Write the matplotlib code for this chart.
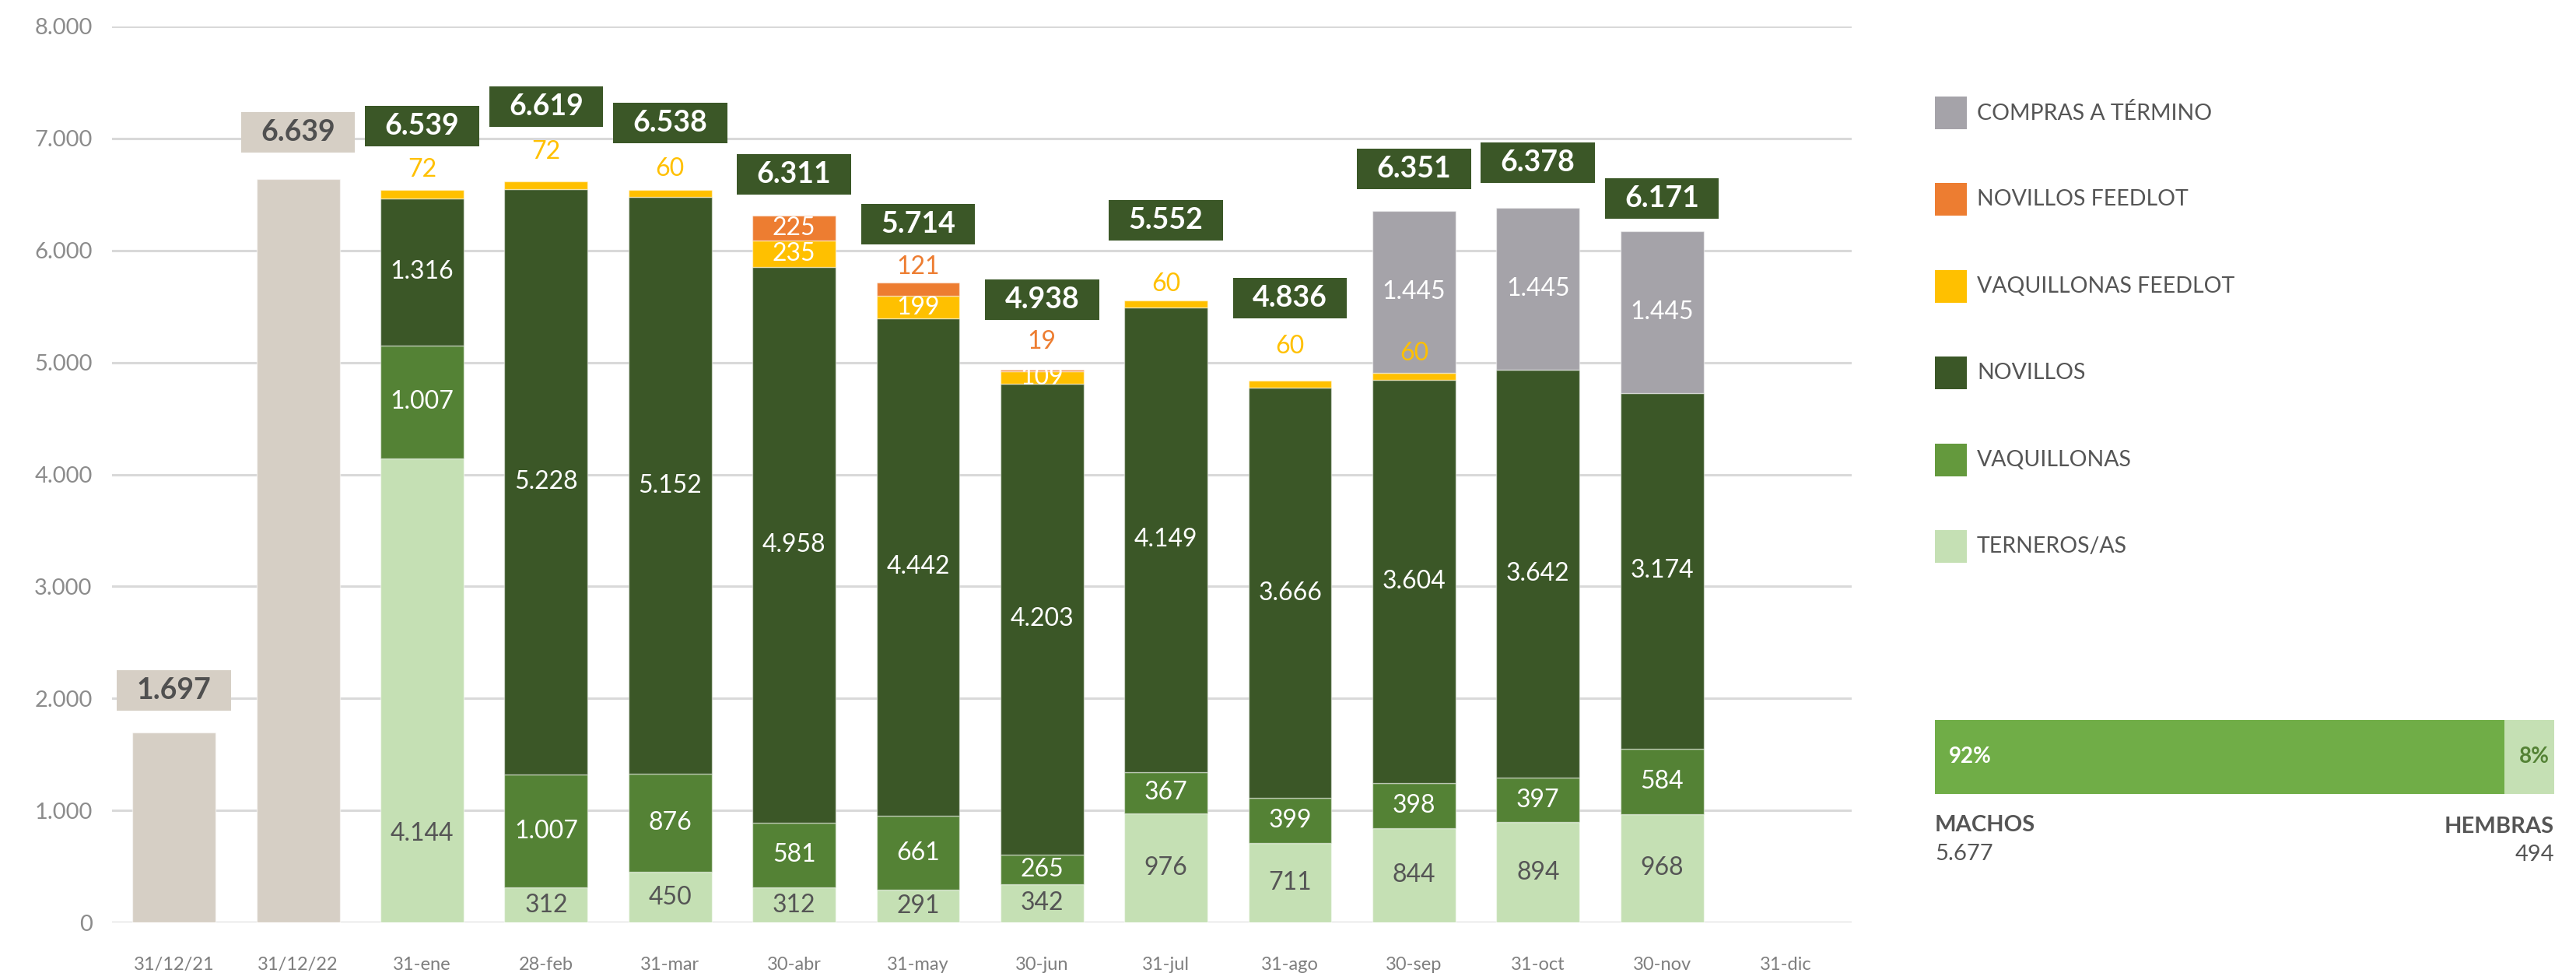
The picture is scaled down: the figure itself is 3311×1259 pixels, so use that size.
import matplotlib
matplotlib.use('Agg')
import matplotlib.pyplot as plt
from matplotlib.patches import Rectangle
from matplotlib.ticker import FuncFormatter, MultipleLocator
import numpy as np

plt.rcParams['font.family'] = ['Lato', 'DejaVu Sans']

# ---------------- data ----------------
categories = ['31/12/21', '31/12/22', '31-ene', '28-feb', '31-mar', '30-abr', '31-may',
              '30-jun', '31-jul', '31-ago', '30-sep', '31-oct', '30-nov', '31-dic']
historic    = [1697, 6639, 0, 0, 0, 0, 0, 0, 0, 0, 0, 0, 0, 0]
terneros    = [0, 0, 4144, 312, 450, 312, 291, 342, 976, 711, 844, 894, 968, 0]
vaquillonas = [0, 0, 1007, 1007, 876, 581, 661, 265, 367, 399, 398, 397, 584, 0]
novillos    = [0, 0, 1316, 5228, 5152, 4958, 4442, 4203, 4149, 3666, 3604, 3642, 3174, 0]
vaq_feedlot = [0, 0, 72, 72, 60, 235, 199, 109, 60, 60, 60, 0, 0, 0]
nov_feedlot = [0, 0, 0, 0, 0, 225, 121, 19, 0, 0, 0, 0, 0, 0]
compras     = [0, 0, 0, 0, 0, 0, 0, 0, 0, 0, 1445, 1445, 1445, 0]

machos = 5677
hembras = 494

series_names = ['TERNEROS/AS', 'VAQUILLONAS', 'NOVILLOS', 'VAQUILLONAS FEEDLOT',
                'NOVILLOS FEEDLOT', 'COMPRAS A TÉRMINO']
series_vals = [terneros, vaquillonas, novillos, vaq_feedlot, nov_feedlot, compras]

# ---------------- styles / layout ----------------
series_colors = ['#c5e0b4', '#548235', '#3b5727', '#ffc000', '#ed7d31', '#a5a3a9']
legend_colors = ['#a5a3a9', '#ed7d31', '#ffc000', '#3b5727', '#64993d', '#c5e0b4']
hist_color = '#d6cfc5'
box_green = '#3b5727'
dark_text = '#555555'

# vertical offset of the total boxes above bar top (data units)
box_dy = [376, 415, 571, 664, 599, 367, 519, 620, 716, 736, 376, 405, 292, 0]
# labels drawn above the bar: (bar index, series index) -> offset above the segment top
outside = {(2, 3): 181, (3, 3): 261, (4, 3): 189, (6, 4): 136, (7, 4): 245,
           (8, 3): 145, (9, 3): 305, (10, 3): 172}
# labels at a fixed height instead of the segment middle
fixed_y = {(2, 0): 790}


def fmt(v):
    return f"{int(v):,}".replace(',', '.')


W, H = 3311, 1259
fig = plt.figure(figsize=(W / 100, H / 100), dpi=100)
left_px, right_px, top_px, bot_px = 143.6, 2380, 34, 1185
ax = fig.add_axes([left_px / W, 1 - bot_px / H, (right_px - left_px) / W, (bot_px - top_px) / H])

x = np.arange(len(categories))
bw = 0.67
ax.set_xlim(-0.503, 13.53)
ax.set_ylim(0, 8000)

for s in ax.spines.values():
    s.set_visible(False)
ax.yaxis.set_major_locator(MultipleLocator(1000))
ax.yaxis.set_major_formatter(FuncFormatter(lambda v, p: fmt(v)))
ax.yaxis.grid(True, color='#d9d9d9', lw=2.2)
ax.set_axisbelow(True)
ax.tick_params(axis='y', length=0, pad=18, labelsize=21, labelcolor='#8c8c8c')
ax.set_xticks(x)
ax.set_xticklabels(categories)
ax.tick_params(axis='x', length=0, pad=32, labelsize=17, labelcolor='#7f7f7f')

# historic bars
hist = np.array(historic)
m = hist > 0
ax.bar(x[m], hist[m], width=bw, color=hist_color, edgecolor=(1, 1, 1, 0.5), lw=1, zorder=2)

bottom = np.zeros(len(categories))
for si, (vals, col) in enumerate(zip(series_vals, series_colors)):
    v = np.array(vals, dtype=float)
    mk = v > 0
    ax.bar(x[mk], v[mk], bottom=bottom[mk], width=bw, color=col,
           edgecolor=(1, 1, 1, 0.45), lw=1, zorder=2)
    for i in np.where(mk)[0]:
        key = (int(i), si)
        if key in outside:
            yy = bottom[i] + v[i] + outside[key]
            tc = col
        elif key in fixed_y:
            yy = fixed_y[key]
            tc = dark_text if si == 0 else 'white'
        else:
            yy = bottom[i] + v[i] / 2
            tc = dark_text if si == 0 else 'white'
        ax.text(i, yy, fmt(v[i]), ha='center', va='center', fontsize=23,
                color=tc, fontweight='normal', zorder=4)
    bottom += v

totals = bottom + hist
box_w, box_h = 0.92, 362
for i in x:
    t = totals[i]
    if t <= 0:
        continue
    cy = t + box_dy[i]
    fc = hist_color if historic[i] > 0 else box_green
    tc = '#505050' if historic[i] > 0 else 'white'
    ax.add_patch(Rectangle((i - box_w / 2, cy - box_h / 2), box_w, box_h, facecolor=fc,
                           edgecolor='none', zorder=5, clip_on=False))
    ax.text(i, cy, fmt(t), ha='center', va='center', fontsize=27, fontweight='bold',
            color=tc, zorder=6)

# ---------------- legend (pixel overlay) ----------------
ov = fig.add_axes([0, 0, 1, 1])
ov.set_xlim(0, W)
ov.set_ylim(H, 0)
ov.axis('off')
legend_labels = series_names[::-1]
for k, (lab, col) in enumerate(zip(legend_labels, legend_colors)):
    yc = 145 + 111.4 * k
    ov.add_patch(Rectangle((2487, yc - 21), 41, 42, facecolor=col, edgecolor='none'))
    ov.text(2541, yc, lab, va='center', ha='left', fontsize=20.5, color=dark_text)

# ---------------- machos / hembras bar ----------------
gx = fig.add_axes([2487 / W, 1 - 1020 / H, 796 / W, 95 / H])
tot = machos + hembras
gx.barh(0, machos, height=1, color='#70ad47')
gx.barh(0, hembras, left=machos, height=1, color='#c5e0b4')
gx.set_xlim(0, tot)
gx.set_ylim(-0.5, 0.5)
gx.axis('off')
gx.text(0.023, 0.5, f"{round(100 * machos / tot)}%", transform=gx.transAxes, ha='left',
        va='center', fontsize=20, fontweight='bold', color='white')
gx.text(0.992, 0.5, f"{round(100 * hembras / tot)}%", transform=gx.transAxes, ha='right',
        va='center', fontsize=20, fontweight='bold', color='#548235')

ov.text(2487, 1060, 'MACHOS', ha='left', va='center', fontsize=21, fontweight='bold', color=dark_text)
ov.text(2487, 1097, fmt(machos), ha='left', va='center', fontsize=21, color=dark_text)
ov.text(3283, 1062, 'HEMBRAS', ha='right', va='center', fontsize=21, fontweight='bold', color=dark_text)
ov.text(3283, 1098, fmt(hembras), ha='right', va='center', fontsize=21, color=dark_text)

fig.savefig('out.png', dpi=100, facecolor='white')
